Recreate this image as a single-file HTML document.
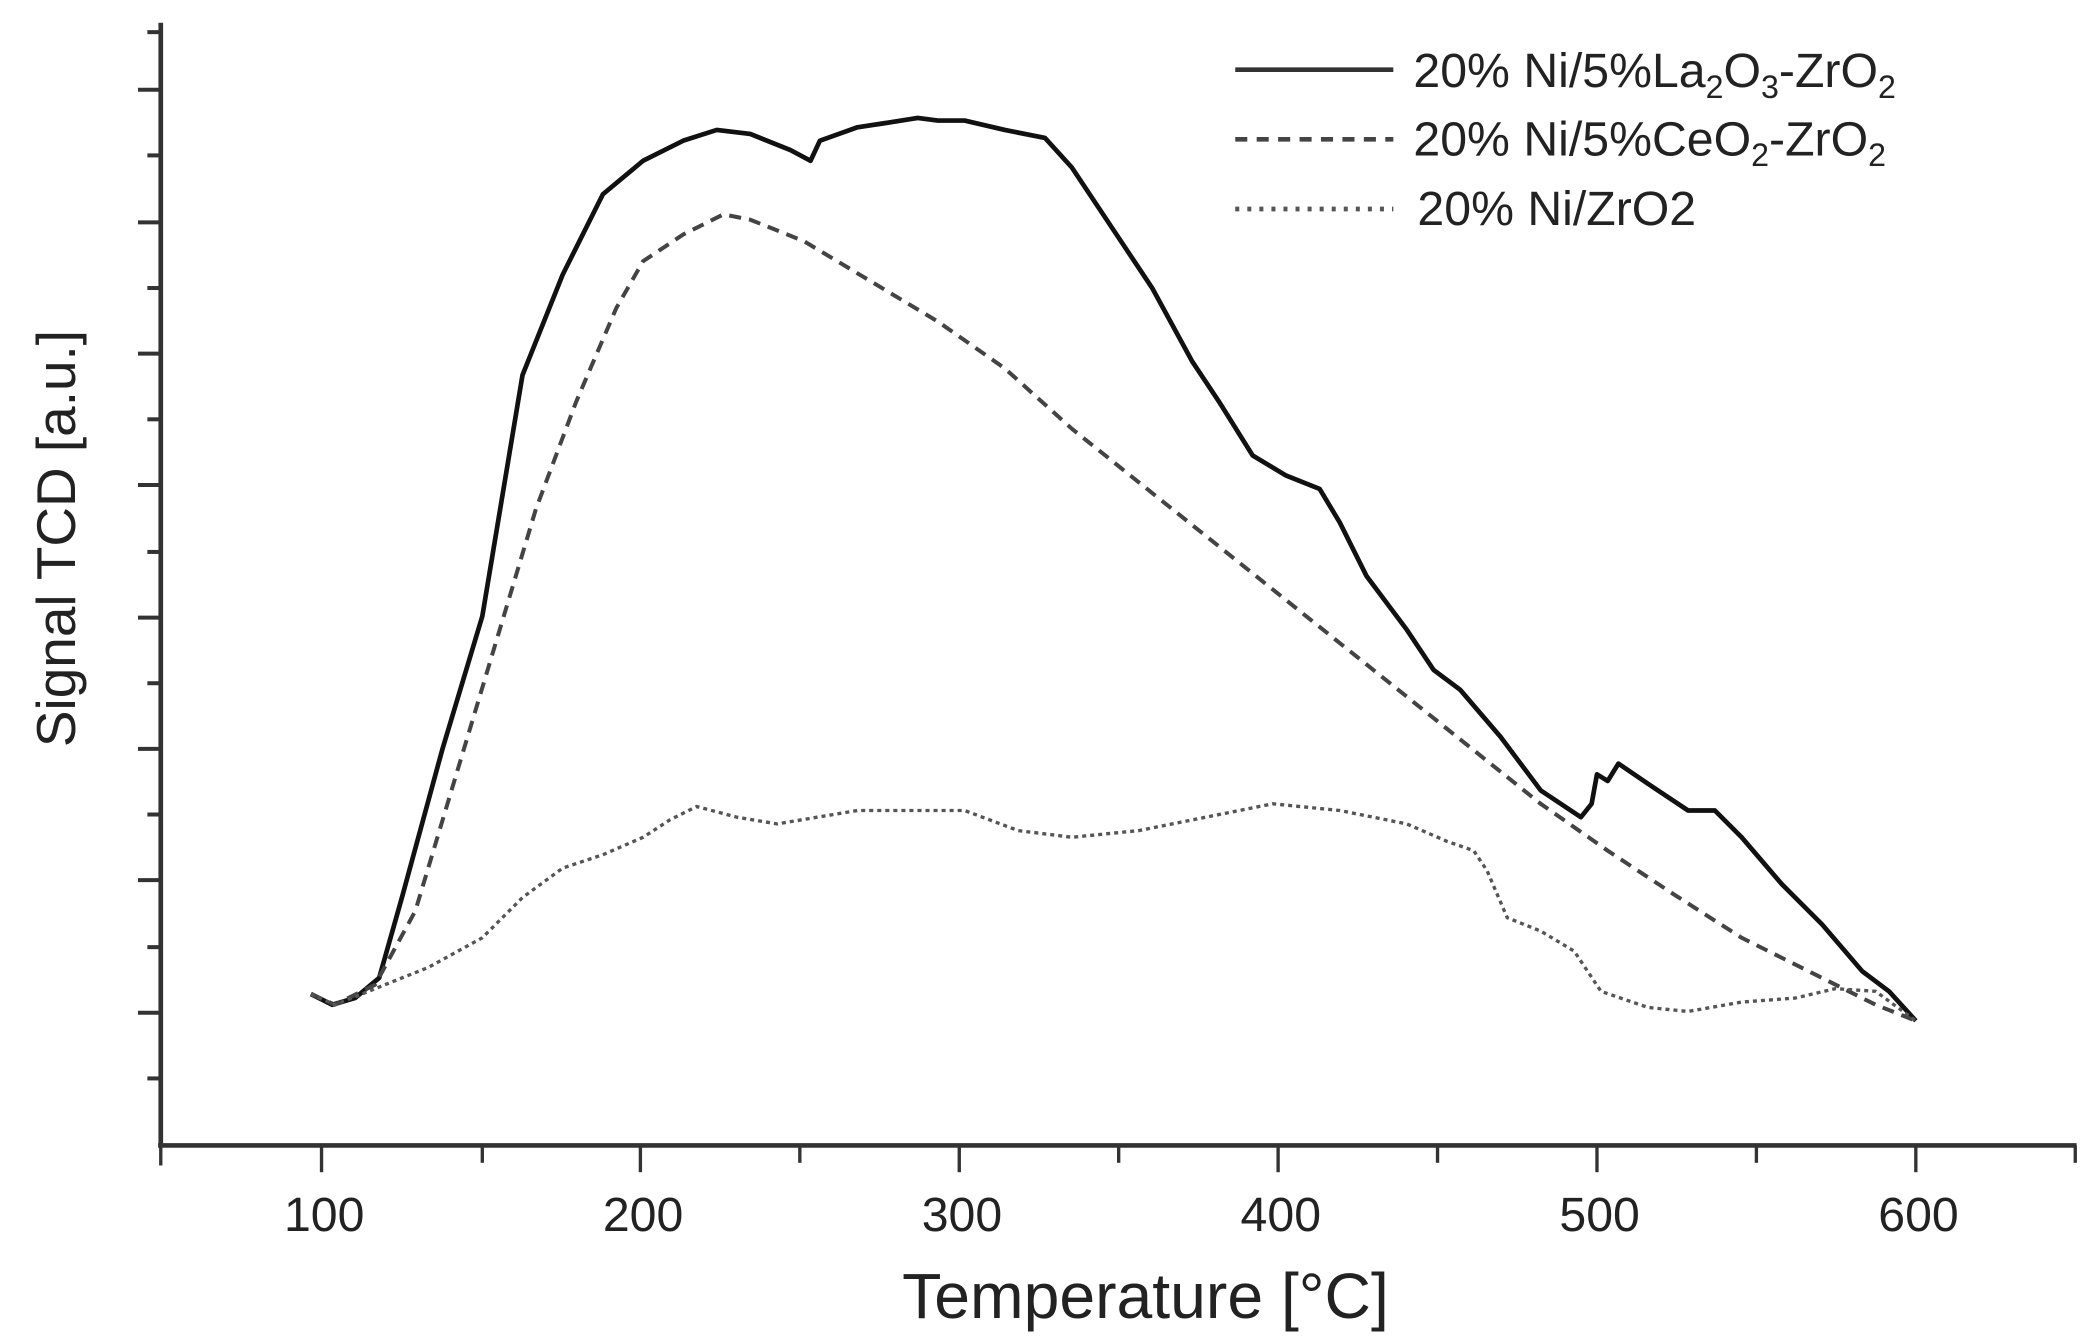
<!DOCTYPE html>
<html><head><meta charset="utf-8"><style>
html,body{margin:0;padding:0;background:#fff;}
svg{display:block;}
text{font-family:"Liberation Sans",sans-serif;fill:#222;}
</style></head><body>
<svg width="2090" height="1341" viewBox="0 0 1560 1001" preserveAspectRatio="none" xmlns="http://www.w3.org/2000/svg">
<g stroke="#333" stroke-width="3.5" fill="none">
<line x1="120" y1="17" x2="120" y2="856"/>
<line x1="118" y1="855" x2="1550" y2="855"/>
</g>
<g stroke="#333" stroke-width="3">
<line x1="103" y1="67" x2="120" y2="67"/><line x1="110" y1="116" x2="120" y2="116"/>
<line x1="103" y1="166" x2="120" y2="166"/><line x1="110" y1="215" x2="120" y2="215"/>
<line x1="103" y1="264" x2="120" y2="264"/><line x1="110" y1="313" x2="120" y2="313"/>
<line x1="103" y1="362" x2="120" y2="362"/><line x1="110" y1="412" x2="120" y2="412"/>
<line x1="103" y1="461" x2="120" y2="461"/><line x1="110" y1="510" x2="120" y2="510"/>
<line x1="103" y1="559" x2="120" y2="559"/><line x1="110" y1="608" x2="120" y2="608"/>
<line x1="103" y1="657" x2="120" y2="657"/><line x1="110" y1="707" x2="120" y2="707"/>
<line x1="103" y1="756" x2="120" y2="756"/><line x1="110" y1="805" x2="120" y2="805"/>
<line x1="110" y1="24" x2="120" y2="24"/>
</g>
<g stroke="#333" stroke-width="2.5">
<line x1="120" y1="855" x2="120" y2="870"/>
<line x1="240" y1="855" x2="240" y2="875"/><line x1="360" y1="855" x2="360" y2="868"/>
<line x1="478" y1="855" x2="478" y2="875"/><line x1="597" y1="855" x2="597" y2="868"/>
<line x1="716" y1="855" x2="716" y2="875"/><line x1="835" y1="855" x2="835" y2="868"/>
<line x1="954" y1="855" x2="954" y2="875"/><line x1="1073" y1="855" x2="1073" y2="868"/>
<line x1="1192" y1="855" x2="1192" y2="875"/><line x1="1311" y1="855" x2="1311" y2="868"/>
<line x1="1430" y1="855" x2="1430" y2="875"/><line x1="1549" y1="855" x2="1549" y2="868"/>
</g>
<g font-size="36" text-anchor="middle">
<text x="242" y="919">100</text><text x="480" y="919">200</text><text x="718" y="919">300</text>
<text x="956" y="919">400</text><text x="1194" y="919">500</text><text x="1432" y="919">600</text>
</g>
<text x="855" y="984" font-size="48" text-anchor="middle">Temperature [°C]</text>
<text transform="translate(56,402) rotate(-90)" font-size="41" text-anchor="middle">Signal TCD [a.u.]</text>
<g fill="none" stroke="#111" stroke-width="3.5" stroke-linejoin="round">
<polyline points="232,742 248,750 265,745 283,730 300,670 330,560 360,460 390,280 420,205 450,145 480,120 510,105 535,97 560,100 590,112 605,120 612,105 640,95 660,92 685,88 700,90 720,90 750,97 780,103 800,125 830,170 860,215 890,270 910,300 935,340 960,355 985,365 1000,390 1020,430 1050,470 1070,500 1090,515 1120,550 1150,590 1180,610 1188,600 1192,578 1200,583 1208,570 1230,585 1260,605 1280,605 1300,625 1330,660 1360,690 1390,725 1410,740 1430,762"/>
<polyline stroke="#444" stroke-width="3" stroke-dasharray="9,6" points="232,742 250,750 280,735 310,680 340,580 370,480 400,380 430,300 460,230 480,195 510,175 540,160 560,164 600,180 650,210 700,240 750,275 800,320 850,360 900,400 950,440 1000,480 1050,520 1100,560 1150,600 1200,635 1250,668 1300,700 1350,725 1400,750 1430,762"/>
<polyline stroke="#555" stroke-width="2.5" stroke-dasharray="3,3" points="232,742 250,750 280,738 320,722 360,700 390,670 420,648 450,638 480,625 500,612 520,602 550,610 580,615 610,610 640,605 680,605 720,605 760,620 800,625 850,620 900,610 950,600 1000,605 1050,615 1080,628 1100,635 1110,650 1125,685 1150,695 1175,710 1195,740 1230,752 1260,755 1300,748 1340,745 1370,738 1400,740 1430,762"/>
</g>
<g stroke-width="3.5">
<line x1="922" y1="52" x2="1040" y2="52" stroke="#333"/>
<line x1="922" y1="104" x2="1040" y2="104" stroke="#444" stroke-dasharray="9,7"/>
<line x1="922" y1="156" x2="1040" y2="156" stroke="#555" stroke-dasharray="3,6"/>
</g>
<g font-size="36">
<text x="1055" y="65">20% Ni/5%La<tspan font-size="24" dy="8">2</tspan><tspan dy="-8">O</tspan><tspan font-size="24" dy="8">3</tspan><tspan dy="-8">-ZrO</tspan><tspan font-size="24" dy="8">2</tspan></text>
<text x="1055" y="116">20% Ni/5%CeO<tspan font-size="24" dy="8">2</tspan><tspan dy="-8">-ZrO</tspan><tspan font-size="24" dy="8">2</tspan></text>
<text x="1058" y="168">20% Ni/ZrO2</text>
</g>
</svg>
</body></html>
